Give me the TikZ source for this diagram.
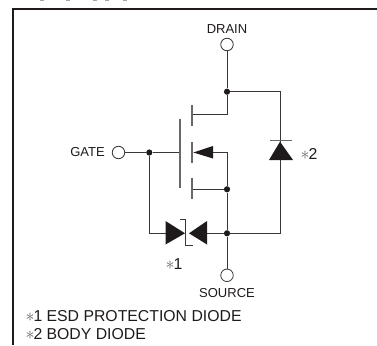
\documentclass[tikz,border=0pt]{standalone}
\usepackage{fontspec}
\setmainfont{Liberation Sans}
\definecolor{ink}{HTML}{1E1A1B}
\definecolor{wire}{HTML}{3A3637}
\definecolor{gate}{HTML}{6A6768}
\newcommand{\stk}{\textcolor{gate}{\scalebox{1.25}{$\ast$}}\hspace{-1.2pt}}
\tikzset{
  x=1pt,y=-1pt,
  wireline/.style={draw=wire,line width=0.8pt},
  fetline/.style={draw=gate,line width=1.2pt},
  term/.style={circle,draw=wire,line width=0.8pt,fill=white,minimum size=12.5pt,inner sep=0pt},
  dot/.style={circle,fill=ink,minimum size=6.2pt,inner sep=0pt},
  lab/.style={inner sep=0pt,text=ink,font=\fontsize{13}{15}\selectfont},
  big/.style={inner sep=0pt,text=ink,font=\fontsize{15.8}{17}\selectfont,anchor=base west},
  tri/.style={fill=ink,draw=none},
  crumb/.style={fill=gate!60,draw=none}
}
\begin{document}
\begin{tikzpicture}
\useasboundingbox (0,0) rectangle (377,345);
\foreach \cx in {42,68,95,107,125} \fill[crumb] (\cx-2,0) rectangle (\cx+2,1);
\draw[draw=ink,line width=2.4pt] (13,345) -- (13,9) -- (377,9);
\node[term] (drain) at (227,44.5) {};
\node[term] (source) at (227,275.3) {};
\node[term] (gate) at (118.5,152.5) {};
\node[lab] at (227,29) {DRAIN};
\node[lab] at (227,293) {SOURCE};
\node[lab,anchor=east] at (105,152.5) {GATE};
\node[dot] (dd) at (227,91.7) {};
\node[dot] (gd) at (149.3,152.5) {};
\node[dot] (bd) at (227,189.3) {};
\node[dot] (sd) at (227,233.3) {};
\coordinate (dr) at (280,91.7);
\coordinate (sr) at (280,233.3);
\coordinate (gl) at (149.3,233.3);
\draw[wireline] (drain) -- (dd) -- (dr) -- (sr) -- (sd) -- (source);
\draw[wireline] (gate) -- (gd) -- (180,152.5);
\draw[wireline] (gd) -- (gl) -- (166,233.3);
\draw[wireline] (207,233.3) -- (sd);
\draw[wireline] (dd) -- (227,114.3) -- (192,114.3);
\draw[wireline] (212,152.5) -- (227,152.5) -- (bd) -- (sd);
\draw[wireline] (192,189.3) -- (bd);
\draw[fetline] (180,119) -- (180,188);
\draw[fetline] (192,105) -- (192,126);
\draw[fetline] (192,142) -- (192,163);
\draw[fetline] (192,177.5) -- (192,198.5);
\fill[tri] (193.3,152.5) -- (213,146) -- (213,158.5) -- cycle;
\fill[tri] (280,141.7) -- (269,160) -- (293,160) -- cycle;
\draw[fetline,line width=0.9pt] (270,140.7) -- (292,140.7);
\draw[wireline] (180,219.5) -- (185.5,219.5) -- (185.5,245.5) -- (193,245.5);
\fill[tri] (165.5,221) -- (165.5,244.5) -- (185,233.3) -- cycle;
\fill[tri] (207,221) -- (207,244.5) -- (189,233.3) -- cycle;
\node[big,anchor=west] at (300.5,153.5) {\stk 2};
\node[big] at (174,264) [anchor=center] {\stk 1};
\node[big] at (25.5,321.5) {\stk 1 ESD PROTECTION DIODE};
\node[big] at (25.5,339) {\stk 2 BODY DIODE};
\end{tikzpicture}
\end{document}
